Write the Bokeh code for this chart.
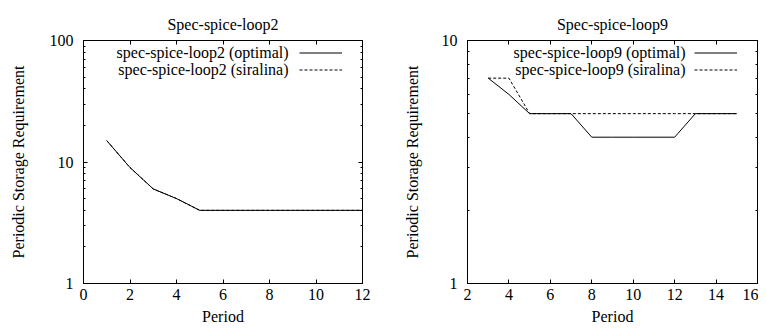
from bokeh.plotting import figure
from bokeh.layouts import row
from bokeh.models import (FixedTicker, LinearAxis, LogAxis, Legend, LegendItem,
                          Label, PrintfTickFormatter, CustomJSTickFormatter, Range1d)
from bokeh.embed import file_html
from bokeh.resources import INLINE

# ---- data ----
loop2_period_opt = [1, 2, 3, 4, 5, 6, 7, 8, 9, 10, 11, 12]
loop2_opt = [15, 9, 6, 5, 4, 4, 4, 4, 4, 4, 4, 4]
loop2_period_sir = [1, 2, 3, 4, 5, 6, 7, 8, 9, 10, 11, 12]
loop2_sir = [15, 9, 6, 5, 4, 4, 4, 4, 4, 4, 4, 4]

loop9_period_opt = [3, 4, 5, 6, 7, 8, 9, 10, 11, 12, 13, 14, 15]
loop9_opt = [7, 6, 5, 5, 5, 4, 4, 4, 4, 4, 5, 5, 5]
loop9_period_sir = [3, 4, 5, 6, 7, 8, 9, 10, 11, 12, 13, 14, 15]
loop9_sir = [7, 7, 5, 5, 5, 5, 5, 5, 5, 5, 5, 5, 5]

FONT = "Liberation Serif"
FS = "16px"
FH = 243


def make_plot(title, xs_opt, ys_opt, xs_sir, ys_sir, xr, yr, xticks, yticks,
              name, bl, fw, br, leg_x, txt_x, ylab_standoff):
    minor = [m * t for t in yticks[:-1] for m in range(2, 10)]
    p = figure(title=title, x_range=Range1d(*xr), y_range=Range1d(*yr),
               y_axis_type="log", frame_width=fw, frame_height=FH,
               min_border_left=bl, min_border_right=br, min_border_top=40,
               min_border_bottom=48, output_backend="svg", toolbar_location=None,
               x_axis_label="Period", y_axis_label="Periodic Storage Requirement")
    p.grid.visible = False
    p.outline_line_color = "black"
    p.outline_line_width = 1
    p.title.text_font = FONT
    p.title.text_font_size = FS
    p.title.text_font_style = "normal"
    p.title.align = "center"
    p.title.vertical_align = "top"
    p.title.text_color = "black"
    p.title.standoff = 12

    xt = FixedTicker(ticks=xticks)
    yt = FixedTicker(ticks=yticks, minor_ticks=minor)
    for ax in p.xaxis:
        ax.ticker = xt
    for ax in p.yaxis:
        ax.ticker = yt
        ax.formatter = PrintfTickFormatter(format="%d")

    top = LinearAxis(ticker=xt)
    right = LogAxis(ticker=yt)
    p.add_layout(top, "above")
    p.add_layout(right, "right")
    for ax in [top, right]:
        ax.formatter = CustomJSTickFormatter(code="return ''")
        ax.major_label_standoff = 0

    for ax in p.axis:
        ax.axis_line_color = "black"
        ax.major_tick_in = 4
        ax.major_tick_out = 0
        ax.minor_tick_in = 2
        ax.minor_tick_out = 0
        ax.major_tick_line_color = "black"
        ax.minor_tick_line_color = "black"
        ax.major_label_text_font = FONT
        ax.major_label_text_font_size = FS
        ax.major_label_text_color = "black"
        ax.axis_label_text_font = FONT
        ax.axis_label_text_font_size = FS
        ax.axis_label_text_font_style = "normal"
        ax.axis_label_text_color = "black"
    for ax in p.xaxis:
        ax.minor_tick_in = 0
    p.xaxis[0].major_label_standoff = 8
    p.xaxis[0].axis_label_standoff = 18
    p.yaxis[0].major_label_standoff = 10
    p.yaxis[0].axis_label_standoff = ylab_standoff

    r_opt = p.line(xs_opt, ys_opt, line_color="black", line_width=1)
    r_sir = p.line(xs_sir, ys_sir, line_color="black", line_width=1, line_dash="3 2")

    leg = Legend(items=[LegendItem(label=" ", renderers=[r_opt]),
                        LegendItem(label=" ", renderers=[r_sir])],
                 location=(leg_x, 205), glyph_width=43, glyph_height=17,
                 label_height=17, label_width=0, label_standoff=0, spacing=0,
                 padding=0, margin=0, border_line_alpha=0,
                 background_fill_alpha=0, label_text_font_size="1px")
    p.add_layout(leg)
    for i, lab in enumerate([name + " (optimal)", name + " (siralina)"]):
        p.add_layout(Label(x=txt_x, y=231 - 17 * i, x_units="screen", y_units="screen",
                           text=lab, text_align="right", text_baseline="middle",
                           text_font=FONT, text_font_size=FS, text_color="black"))
    return p


p1 = make_plot("Spec-spice-loop2", loop2_period_opt, loop2_opt, loop2_period_sir, loop2_sir,
               (0, 12), (1, 100), [0, 2, 4, 6, 8, 10, 12], [1, 10, 100],
               "spec-spice-loop2", 83, 279, 21, 216, 205, 20)
p2 = make_plot("Spec-spice-loop9", loop9_period_opt, loop9_opt, loop9_period_sir, loop9_sir,
               (2, 16), (1, 10), [2, 4, 6, 8, 10, 12, 14, 16], [1, 10],
               "spec-spice-loop9", 84, 290, 1, 227, 218, 18)

layout = row(p1, p2, spacing=0)
open("out.html", "w").write(file_html(layout, INLINE))
